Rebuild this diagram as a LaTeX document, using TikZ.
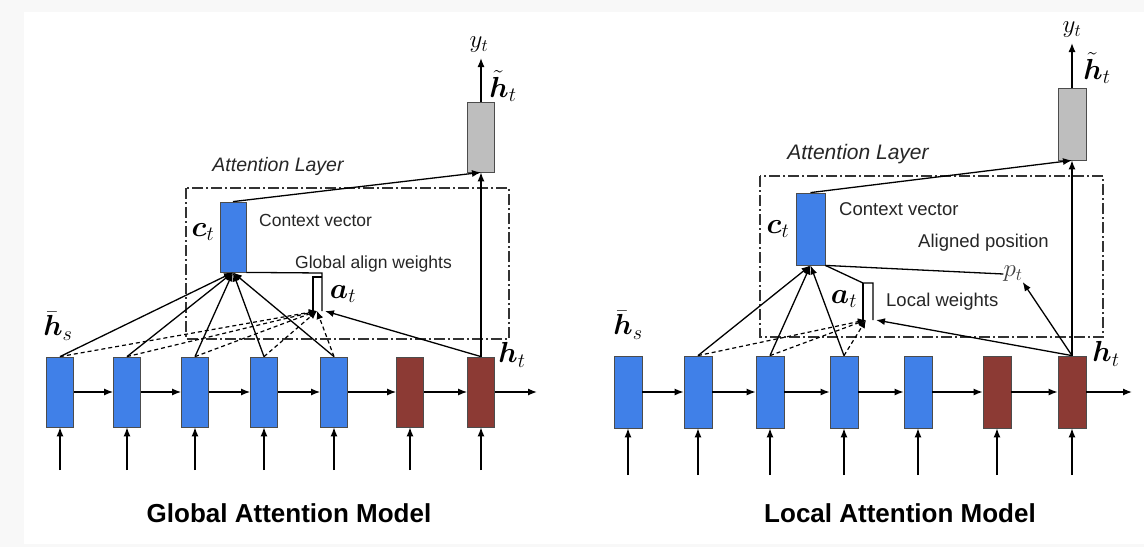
\documentclass[tikz,border=0pt]{standalone}
\usepackage{fix-cm}
\usepackage{amsmath,bm}
\usepackage{fontspec}
\setmainfont{Liberation Sans}
\usetikzlibrary{arrows.meta}
\definecolor{cblue}{RGB}{64,128,232}
\definecolor{cred}{RGB}{140,58,52}
\definecolor{cgray}{RGB}{190,190,190}
\definecolor{cframe}{RGB}{248,248,248}
\tikzset{
  cell/.style={draw=black!70, line width=0.8pt, minimum width=27pt, minimum height=70pt, inner sep=0pt},
  rcell/.style={cell, minimum width=28pt, minimum height=72pt},
  enc/.style={fill=cblue},
  dec/.style={fill=cred},
  outc/.style={fill=cgray},
  conn/.style={line width=1.3pt, -{Latex[length=9pt,width=7pt]}},
  plain/.style={line width=1.3pt},
  dconn/.style={line width=1.2pt, dash pattern=on 4pt off 3pt, -{Latex[length=8pt,width=7pt]}},
  attbox/.style={line width=1.5pt, black!80, dash pattern=on 11pt off 3pt on 2pt off 3pt},
  mlab/.style={inner sep=0pt, font=\fontsize{29}{33}\selectfont},
  ylab/.style={inner sep=0pt, font=\fontsize{25}{29}\selectfont},
  slab/.style={inner sep=0pt, anchor=west, text=black!85, font=\fontsize{17.5}{20}\selectfont},
  srlab/.style={slab, font=\fontsize{18.5}{21}\selectfont},
  attl/.style={inner sep=0pt, text=black!85, font=\fontsize{19.5}{22}\selectfont\itshape},
  title/.style={inner sep=0pt, font=\fontsize{26}{30}\selectfont\bfseries}
}
\begin{document}
\begin{tikzpicture}[x=1pt,y=-1pt]
\useasboundingbox (0,0) rectangle (1144,547);
\fill[cframe] (0,0) rectangle (1144,547);
\fill[white] (24,12) rectangle (1144,544);

% ================= LEFT: Global =================
\foreach \n/\x in {1/60,2/127,3/195,4/264,5/334} \node[cell,enc] (l\n) at (\x,392) {};
\node[cell,dec] (l6) at (410,392) {};
\node[cell,dec] (l7) at (481,392) {};
\node[cell,outc] (lg) at (481,137) {};
\node[cell,enc,minimum width=26pt] (lc) at (233,237) {};

\foreach \n/\x in {1/60,2/127,3/195,4/264,5/334,6/410,7/481} {
  \coordinate (li\n) at (\x,470);
  \draw[conn] (li\n) -- (l\n.south);
}
\foreach \a/\b in {1/2,2/3,3/4,4/5,5/6,6/7} \draw[conn] (l\a.east) -- (l\b.west);
\coordinate (lend) at (537,392);
\draw[conn] (l7.east) -- (lend);

\coordinate (ly) at (481,58);
\draw[conn] (lg.north) -- (ly);
\node[ylab] (lyt) at (479,45) {$y_t$};
\node[mlab] (lht) at (503,86) {$\tilde{\bm{h}}_t$};

\draw[attbox] (186,188) rectangle (509,339);
\node[attl] (lattl) at (278,166) {Attention Layer};
\node[slab] (lcv) at (259,220) {Context vector};
\node[slab] (lgaw) at (295,264) {Global align weights};
\node[mlab] (lctl) at (203,232) {$\bm{c}_t$};
\node[mlab] (latl) at (343,294) {$\bm{a}_t$};
\node[mlab] (lhs) at (58,326) {$\bar{\bm{h}}_s$};
\node[mlab] (lhtl) at (512,355) {$\bm{h}_t$};

\coordinate (la) at (317,311);
\coordinate (la2) at (325,311);
\foreach \n in {1,...,5} {
  \draw[dconn] (l\n.north) -- (la);
  \draw[conn] (l\n.north) -- (lc.south);
}
\draw[conn] (l7.north) -- (la2);
\draw[conn] (l7.north) -- (lg.south);
\draw[conn] (lc.north) -- (lg.south);
\draw[plain] (lc.south east) -- (322,273) -- (322,311);
\draw[plain] (313,311) -- (313,277) -- (322,277);

\node[title] (ltitle) at (289,513) {Global Attention Model};

% ================= RIGHT: Local =================
\foreach \n/\x in {1/628,2/698,3/770,4/844,5/918} \node[rcell,enc] (r\n) at (\x,392) {};
\node[rcell,dec] (r6) at (997,392) {};
\node[rcell,dec] (r7) at (1072,392) {};
\node[rcell,outc] (rg) at (1072,124) {};
\node[rcell,enc,minimum width=29pt] (rc) at (810.5,229) {};

\foreach \n/\x in {1/628,2/698,3/770,4/844,5/918,6/997,7/1072} {
  \coordinate (ri\n) at (\x,475);
  \draw[conn] (ri\n) -- (r\n.south);
}
\foreach \a/\b in {1/2,2/3,3/4,4/5,5/6,6/7} \draw[conn] (r\a.east) -- (r\b.west);
\coordinate (rend) at (1132,392);
\draw[conn] (r7.east) -- (rend);

\coordinate (ry) at (1072,43);
\draw[conn] (rg.north) -- (ry);
\node[ylab] (ryt) at (1072,30) {$y_t$};
\node[mlab] (rht) at (1097,68) {$\tilde{\bm{h}}_t$};

\draw[attbox] (760,176) rectangle (1103,337);
\node[attl, font=\fontsize{21}{24}\selectfont\itshape] (rattl) at (858,154) {Attention Layer};
\node[srlab] (rcv) at (839,209) {Context vector};
\node[srlab] (rap) at (918,243) {Aligned position};
\node[srlab] (rlw) at (886,302) {Local weights};
\node[mlab] (rctl) at (778,229) {$\bm{c}_t$};
\node[mlab] (ratl) at (844,299) {$\bm{a}_t$};
\node[mlab] (rhs) at (628,325) {$\bar{\bm{h}}_s$};
\node[mlab] (rhtl) at (1106,354) {$\bm{h}_t$};
\node[ylab, text=black!75] (rpt) at (1013,274) {$p_t$};

\coordinate (ra) at (866,320);
\coordinate (ra2) at (876,320);
\foreach \n in {2,3,4} {
  \draw[dconn] (r\n.north) -- (ra);
  \draw[conn] (r\n.north) -- (rc.south);
}
\draw[conn] (r7.north) -- (ra2);
\draw[conn] (r7.north) -- (rpt.south east);
\draw[conn] (r7.north) -- (rg.south);
\draw[conn] (rc.north) -- (rg.south);
\draw[plain] (rc.south east) -- (rpt.west);
\draw[plain] (rc.south east) -- (863,283) -- (873,283) -- (873,320);
\draw[plain] (863,283) -- (863,320);

\node[title] (rtitle) at (900,513) {Local Attention Model};
\end{tikzpicture}
\end{document}
